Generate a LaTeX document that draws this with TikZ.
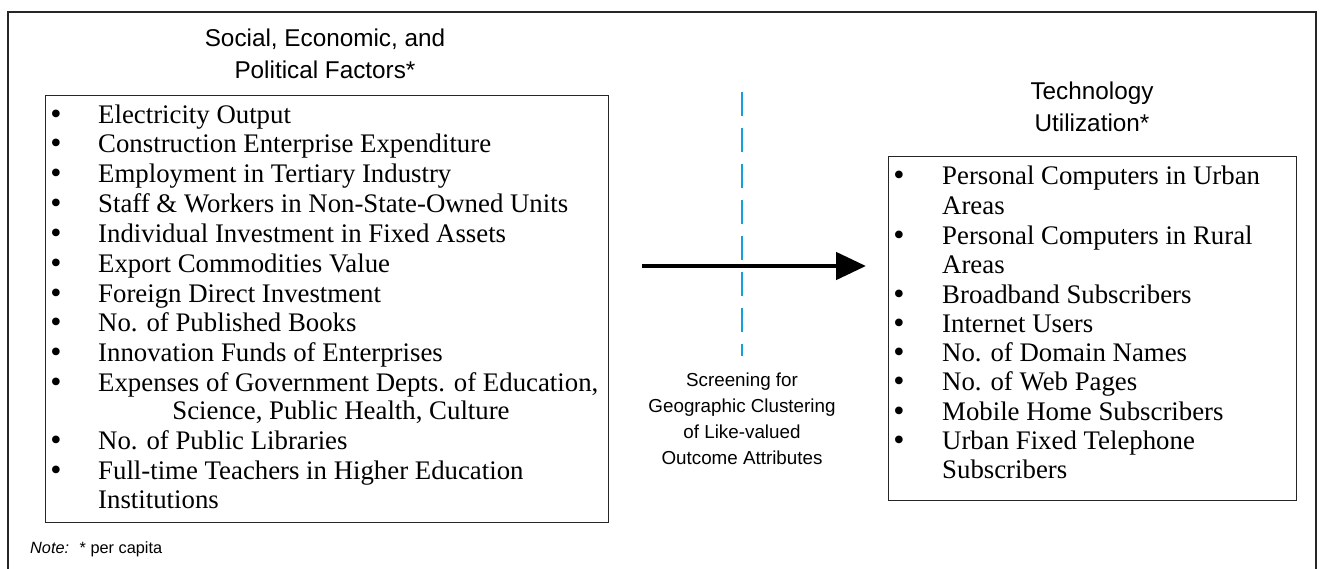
\documentclass[tikz,border=0pt]{standalone}
\usepackage{fontspec}
\setmainfont{Liberation Serif}
\setsansfont{Liberation Sans}
\usetikzlibrary{arrows.meta}
\definecolor{dashblue}{RGB}{20,160,220}
\begin{document}
\begin{tikzpicture}[x=1pt,y=-1pt,
  item/.style={anchor=base west,inner sep=0pt,font=\fontsize{26.8}{30}\selectfont},
  bul/.style={anchor=base,inner sep=0pt,font=\fontsize{32}{30}\selectfont},
  heading/.style={align=center,inner sep=0pt,font=\sffamily\fontsize{24.3}{32.5}\selectfont},
  caption/.style={align=center,inner sep=0pt,font=\sffamily\fontsize{18.8}{26}\selectfont},
  listbox/.style={draw=black!85,line width=1.4pt,anchor=north west,inner sep=0pt},
  frame/.style={draw=black!85,line width=1.2pt},
  flow/.style={line width=4.8pt,-{Triangle[length=30pt,width=27pt]}},
  screen/.style={draw=dashblue,line width=2.2pt,dash pattern=on 24pt off 12pt}]
\useasboundingbox (0,0) rectangle (1320,568);
\draw[frame] (8,600) -- (8,12) -- (1316,12) -- (1316,600);
% headings
\node[heading] (h1) at (325,54) {Social, Economic, and\\Political Factors*};
\node[heading] (h2) at (1092,107) {Technology\\Utilization*};
% boxes
\node[listbox,minimum width=563pt,minimum height=427pt] (factors) at (45,95) {};
\node[listbox,minimum width=408pt,minimum height=344pt] (tech) at (888,156) {};
% left list
\foreach \t/\y [count=\i] in {
  Electricity Output/115,
  Construction Enterprise Expenditure/144,
  Employment in Tertiary Industry/174,
  Staff \& Workers in Non-State-Owned Units/204,
  Individual Investment in Fixed Assets/234,
  Export Commodities Value/264,
  Foreign Direct Investment/294,
  No. of Published Books/323,
  Innovation Funds of Enterprises/353,
  {Expenses of Government Depts. of Education,}/383,
  No. of Public Libraries/441,
  Full-time Teachers in Higher Education/471}
{
  \node[bul] (lb\i) at (56,\y+9) {•};
  \node[item] (li\i) at (98,\y+8) {\t};
}
\node[item,anchor=base] (lc1) at (341,411+8) {Science, Public Health, Culture};
\node[item] (lc2) at (98,500+8) {Institutions};
% right list
\foreach \t/\y [count=\i] in {
  Personal Computers in Urban/176,
  Personal Computers in Rural/236,
  Broadband Subscribers/295,
  Internet Users/324,
  No. of Domain Names/353,
  No. of Web Pages/382,
  Mobile Home Subscribers/412,
  Urban Fixed Telephone/441}
{
  \node[bul] (rb\i) at (899,\y+9) {•};
  \node[item] (ri\i) at (942,\y+8) {\t};
}
\node[item] (rc1) at (942,206+8) {Areas};
\node[item] (rc2) at (942,265+8) {Areas};
\node[item] (rc3) at (942,470+8) {Subscribers};
% arrow and screening line
\coordinate (a0) at (642,266);
\coordinate (a1) at (866,266);
\draw[flow] (a0) -- (a1);
\coordinate (s0) at (742,92);
\coordinate (s1) at (742,356);
\draw[screen] (s0) -- (s1);
\node[caption] (cap) at (742,419) {Screening for\\Geographic Clustering\\of Like-valued\\Outcome Attributes};
% note
\node[anchor=base west,inner sep=0pt,font=\sffamily\fontsize{16.3}{20}\selectfont] (note) at (30,553) {\textit{Note:}\; * per capita};
\end{tikzpicture}
\end{document}
